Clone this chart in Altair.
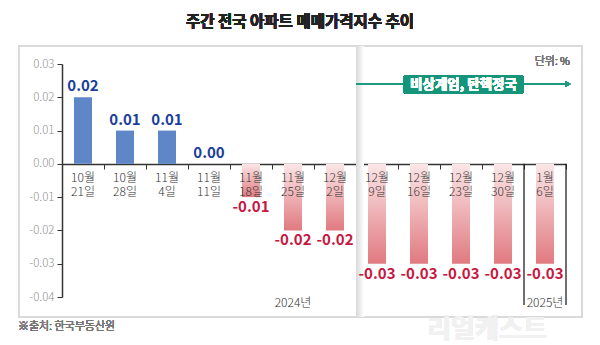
import altair as alt
import pandas as pd

# ---- data ----
months = ["10월", "10월", "11월", "11월", "11월", "11월", "12월", "12월", "12월", "12월", "12월", "1월"]
days = ["21일", "28일", "4일", "11일", "18일", "25일", "2일", "9일", "16일", "23일", "30일", "6일"]
values = [0.02, 0.01, 0.01, 0.00, -0.01, -0.02, -0.02, -0.03, -0.03, -0.03, -0.03, -0.03]
y_ticks = [-0.04, -0.03, -0.02, -0.01, 0.00, 0.01, 0.02, 0.03]
year_labels = ["2024년", "2025년"]
year_cats = ["11월 25일", "1월 6일"]

cats = [m + " " + d for m, d in zip(months, days)]
df = pd.DataFrame({
    "cat": cats,
    "month": months,
    "day": days,
    "value": values,
    "vlabel": [f"{v:.2f}" for v in values],
})
years_df = pd.DataFrame({"cat": year_cats, "year": year_labels})
div_df = pd.DataFrame({"cat": ["1월 6일"]})

FONT = "Noto Sans CJK KR"
W, H = 504, 233

xscale = alt.Scale(domain=cats, paddingInner=0, paddingOuter=0)
yscale = alt.Scale(domain=[-0.04, 0.03], nice=False, zero=False)

xaxis = alt.Axis(orient="bottom", offset=-133, labels=False, title=None, grid=False,
                 tickBand="extent", tickSize=5, tickColor="#333", domainColor="#333",
                 domainWidth=1.3, tickWidth=1)
yaxis = alt.Axis(values=y_ticks, title=None, grid=False, domainColor="#333", domainWidth=1.5,
                 tickColor="#333", tickSize=5, labelColor="#8f8f8f", labelFontSize=11.5,
                 labelFont=FONT, labelFontWeight=300, labelPadding=3, labelOverlap=False,
                 labelExpr="replace(format(datum.value, '.2f'), '\u2212', '-')")

X = alt.X("cat:N", scale=xscale, sort=cats, axis=xaxis)
Y = alt.Y("value:Q", scale=yscale, axis=yaxis)
Y0 = alt.Y(datum=0, scale=yscale, axis=yaxis)

base = alt.Chart(df)

# decorative frame and shadow
frame = alt.Chart(df).mark_rect(fill="white", fillOpacity=0, stroke="#dadada", strokeWidth=1.5).encode(
    x=alt.value(-43), x2=alt.value(520), y=alt.value(-18), y2=alt.value(253))
shadow = alt.Chart(df).mark_rect(color=alt.Gradient(
    gradient="linear", x1=0, x2=1, y1=0, y2=0,
    stops=[alt.GradientStop(color="#d8d8d8", offset=0), alt.GradientStop(color="#ffffff", offset=1)])).encode(
    x=alt.value(294), x2=alt.value(302), y=alt.value(-18), y2=alt.value(253))
watermark = alt.Chart(df).mark_text(text="리얼캐스트", font=FONT, fontSize=26, fontWeight="bold",
                                    fill="#f1f1f1", baseline="middle").encode(
    x=alt.value(425), y=alt.value(266))

pos_bars = base.transform_filter("datum.value > 0").mark_bar(width=18, color="#5f87c8").encode(
    x=X, y=Y, y2=alt.datum(0))
neg_bars = base.transform_filter("datum.value < 0").mark_bar(width=18, color=alt.Gradient(
    gradient="linear", x1=0, x2=0, y1=0, y2=1,
    stops=[alt.GradientStop(color="#fbe6e7", offset=0), alt.GradientStop(color="#e07a80", offset=1)])).encode(
    x=X, y=Y, y2=alt.datum(0))

pos_labels = base.transform_filter("datum.value >= 0").mark_text(
    font=FONT, fontSize=15, fontWeight="bold", color="#1b3f9a", baseline="bottom", dy=-3).encode(
    x=X, y=Y, text="vlabel:N")
neg_labels = base.transform_filter("datum.value < 0").mark_text(
    font=FONT, fontSize=15, fontWeight="bold", color="#c8173f", baseline="top", dy=3).encode(
    x=X, y=Y, text="vlabel:N")

month_labels = base.mark_text(font=FONT, fontSize=12, fontWeight=300, color="#333",
                              baseline="middle", dy=14).encode(
    x=X, y=Y0, text="month:N")
day_labels = base.mark_text(font=FONT, fontSize=12, fontWeight=300, color="#333",
                            baseline="middle", dy=28).encode(
    x=X, y=Y0, text="day:N")

div_left = alt.Chart(div_df).mark_rule(color="#222", strokeWidth=1.3).encode(
    x=alt.X("cat:N", scale=xscale, sort=cats, axis=xaxis, bandPosition=0),
    y=Y0, y2=alt.datum(-0.0424))
div_right = alt.Chart(div_df).mark_rule(color="#222", strokeWidth=1.3).encode(
    x=alt.X("cat:N", scale=xscale, sort=cats, axis=xaxis, bandPosition=1),
    y=Y0, y2=alt.datum(-0.0424))

year_text = alt.Chart(years_df).mark_text(font=FONT, fontSize=12, fontWeight=300, color="#333",
                                          baseline="middle").encode(
    x=alt.X("cat:N", scale=xscale, sort=cats, axis=xaxis), y=alt.value(239), text="year:N")

arrow_line = alt.Chart(df).mark_rule(color="#1f9a80", strokeWidth=1.5).encode(
    x=alt.value(294), x2=alt.value(505), y=alt.value(20))
arrow_head = alt.Chart(df).mark_point(shape="triangle-right", filled=True, size=35,
                                      color="#1f9a80", opacity=1).encode(
    x=alt.value(506), y=alt.value(20))
box = alt.Chart(df).mark_rect(color="#16957a", cornerRadius=3).encode(
    x=alt.value(341), x2=alt.value(462), y=alt.value(11), y2=alt.value(30))
box_text = alt.Chart(df).mark_text(text="비상계엄, 탄핵정국", font=FONT, fontSize=13.5,
                                   fontWeight="bold", color="white", baseline="middle").encode(
    x=alt.value(401.5), y=alt.value(20.5))

unit = alt.Chart(df).mark_text(text="단위: %", font=FONT, fontSize=11, fontWeight=300, color="#777",
                               align="right", baseline="middle").encode(
    x=alt.value(508), y=alt.value(-2))
title = alt.Chart(df).mark_text(text="주간 전국 아파트 매매가격지수 추이", font=FONT, fontSize=15.5,
                                fontWeight="bold", color="#222", baseline="middle").encode(
    x=alt.value(238), y=alt.value(-42))
source = alt.Chart(df).mark_text(text="※출처: 한국부동산원", font=FONT, fontSize=11, fontWeight=300,
                                 color="#777", align="left", baseline="middle").encode(
    x=alt.value(-44), y=alt.value(263))

chart = alt.layer(
    frame, shadow, watermark, pos_bars, neg_bars, month_labels, day_labels, pos_labels, neg_labels,
    div_left, div_right, year_text, arrow_line, arrow_head, box, box_text, unit, title, source,
).properties(
    width=W, height=H,
    padding={"left": 62, "top": 64, "right": 34, "bottom": 48},
    autosize=alt.AutoSizeParams(type="none"),
    background="white",
).configure_view(stroke=None)

chart.save("out.html", embed_options={"renderer": "svg", "actions": False})
